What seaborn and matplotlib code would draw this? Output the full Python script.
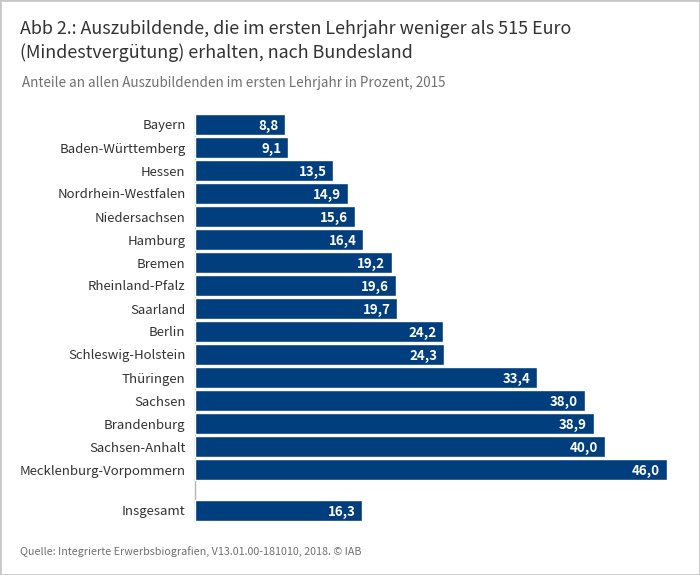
"""
Auszubildende unter Mindestverguetung nach Bundesland
"""

import matplotlib
matplotlib.use('Agg')
import matplotlib.pyplot as plt
from matplotlib.lines import Line2D
from matplotlib.patches import Rectangle
import pandas as pd
import seaborn as sns

states = ['Bayern', 'Baden-Württemberg', 'Hessen', 'Nordrhein-Westfalen',
          'Niedersachsen', 'Hamburg', 'Bremen', 'Rheinland-Pfalz', 'Saarland',
          'Berlin', 'Schleswig-Holstein', 'Thüringen', 'Sachsen', 'Brandenburg',
          'Sachsen-Anhalt', 'Mecklenburg-Vorpommern']
shares = [8.8, 9.1, 13.5, 14.9, 15.6, 16.4, 19.2, 19.6, 19.7,
          24.2, 24.3, 33.4, 38.0, 38.9, 40.0, 46.0]
total_label = ['Insgesamt']
total_share = [16.3]

BLUE = '#003e7e'
W, H = 700, 575
LEFT, RIGHT = 195, 666.5

sns.set_style('white')
plt.rcParams['font.family'] = ['Noto Sans CJK SC', 'DejaVu Sans']


def axes_px(top, bottom):
    return fig.add_axes([LEFT / W, 1 - bottom / H, (RIGHT - LEFT) / W, (bottom - top) / H])


def draw_bars(ax, labels, values):
    df = pd.DataFrame({'state': labels, 'share': values})
    sns.barplot(data=df, x='share', y='state', color=BLUE, saturation=1,
                width=0.87, ax=ax)
    ax.set_xlim(0, 46.0)
    ax.set_xlabel('')
    ax.set_ylabel('')
    ax.xaxis.set_visible(False)
    ax.patch.set_alpha(0)
    ax.tick_params(axis='y', length=0, pad=6.8, labelsize=9.5, labelcolor='#333333')
    sns.despine(ax=ax, left=True, bottom=True)
    for i, val in enumerate(values):
        ax.text(val - 0.65, i, f'{val:.1f}'.replace('.', ','), ha='right',
                va='center_baseline', color='white', fontsize=9.6, fontweight='bold')


fig = plt.figure(figsize=(W / 100, H / 100), dpi=100)

draw_bars(axes_px(113, 481), states, shares)
draw_bars(axes_px(499, 522), total_label, total_share)

# duenne Achsenlinie links, laeuft durch die Luecke vor "Insgesamt"
fig.add_artist(Line2D([LEFT / W] * 2, [1 - 115 / H, 1 - 520 / H],
                      transform=fig.transFigure, color='#b5b5b5', linewidth=1, zorder=0))

# Rahmen um die ganze Grafik
fig.add_artist(Rectangle((0, 0), 1, 1, transform=fig.transFigure, fill=False,
                         edgecolor='#c8c8c8', linewidth=2))

fig.text(20 / W, 1 - 29.5 / H, 'Abb 2.: Auszubildende, die im ersten Lehrjahr weniger als 515 Euro',
         fontsize=12.92, color='#333333', va='center')
fig.text(20 / W, 1 - 52.5 / H, '(Mindestvergütung) erhalten, nach Bundesland',
         fontsize=12.92, color='#333333', va='center')
fig.text(22 / W, 1 - 83 / H, 'Anteile an allen Auszubildenden im ersten Lehrjahr in Prozent, 2015',
         fontsize=9.68, color='#707070', va='center')
fig.text(20 / W, 1 - 552 / H, 'Quelle: Integrierte Erwerbsbiografien, V13.01.00-181010, 2018. © IAB',
         fontsize=7.75, color='#707070', va='center')

fig.savefig('out.png', dpi=100)
plt.close(fig)
